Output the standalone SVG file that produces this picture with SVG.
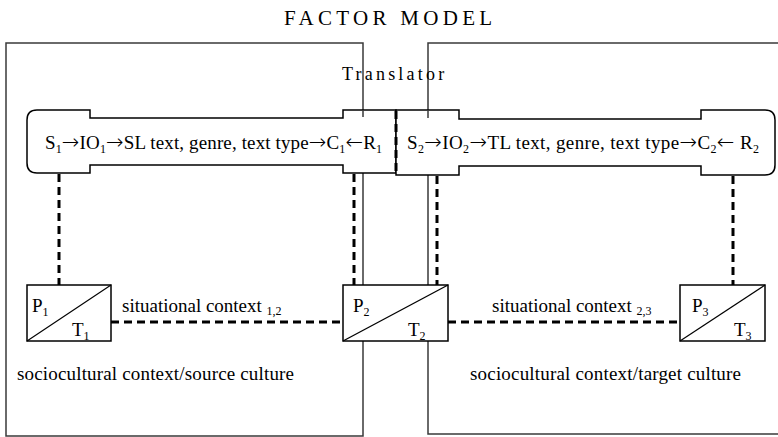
<svg xmlns="http://www.w3.org/2000/svg" width="778" height="437" viewBox="0 0 778 437">
<style>
text{font-family:"Liberation Serif","Times New Roman",serif;fill:#000}
.lbl{font-size:19px}
.sub{font-size:12px}
.ar{font-family:"DejaVu Sans",sans-serif;font-size:21px;font-weight:200}
.frame{fill:none;stroke:#3a3a3a;stroke-width:1.5}
.box{fill:#fff;stroke:#000;stroke-width:1.5}
.dash{fill:none;stroke:#000;stroke-width:3;stroke-dasharray:8 5}
.thin{fill:none;stroke:#000;stroke-width:1.2}
</style>
<rect width="778" height="437" fill="#fff"/>
<text x="284" y="25" font-size="21" letter-spacing="4.3">FACTOR MODEL</text>
<g id="source-culture">
<path class="frame" d="M6,436 V43 H363 V436 Z"/>
</g>
<g id="target-culture">
<path class="frame" d="M790,43 H428 V434 H790"/>
</g>
<text x="342" y="80" font-size="18" letter-spacing="3.2">Translator</text>
<g id="source-chain">
<path class="box" d="M37,110 H90 V118 H343 V110 H396 V173 H343 V165 H90 V173 H37 Q27,173 27,163 V120 Q27,110 37,110 Z"/>
<text class="lbl" x="45" y="149" textLength="337">S<tspan class="sub" dy="4">1</tspan><tspan class="ar" dy="-4">→</tspan>IO<tspan class="sub" dy="4">1</tspan><tspan class="ar" dy="-4">→</tspan>SL text, genre, text type<tspan class="ar">→</tspan>C<tspan class="sub" dy="4">1</tspan><tspan class="ar" dy="-4">←</tspan>R<tspan class="sub" dy="4">1</tspan></text>
</g>
<g id="target-chain">
<path class="box" d="M396,110 H459 V119 H701 V110 H765 Q775,110 775,120 V165 Q775,175 765,175 H701 V166 H459 V175 H396 Z"/>
<text class="lbl" x="407" y="149" textLength="352">S<tspan class="sub" dy="4">2</tspan><tspan class="ar" dy="-4">→</tspan>IO<tspan class="sub" dy="4">2</tspan><tspan class="ar" dy="-4">→</tspan>TL text, genre, text type<tspan class="ar">→</tspan>C<tspan class="sub" dy="4">2</tspan><tspan class="ar" dy="-4">←</tspan> R<tspan class="sub" dy="4">2</tspan></text>
</g>
<g id="frame-overlaps">
<path class="frame" d="M363,110 V117 M428,110 V118"/>
</g>
<g id="connectors">
<path class="dash" d="M396,111 V173"/>
<path class="dash" d="M59,174 V285"/>
<path class="dash" d="M354,174 V285"/>
<path class="dash" d="M437,176 V285"/>
<path class="dash" d="M733,176 V285"/>
<path class="dash" d="M111,322 H343"/>
<path class="dash" d="M448,322 H680"/>
</g>
<g id="p1-t1">
<rect class="box" x="27" y="285" width="84" height="56"/>
<path class="thin" d="M27,341 L111,285"/>
<text class="lbl" x="32" y="312">P<tspan class="sub" dy="4">1</tspan></text>
<text class="lbl" x="72" y="336">T<tspan class="sub" dy="4">1</tspan></text>
</g>
<g id="p2-t2">
<rect class="box" x="343" y="285" width="105" height="56"/>
<path class="thin" d="M343,341 L448,285"/>
<text class="lbl" x="353" y="312">P<tspan class="sub" dy="4">2</tspan></text>
<text class="lbl" x="408" y="336">T<tspan class="sub" dy="4">2</tspan></text>
</g>
<g id="p3-t3">
<rect class="box" x="680" y="285" width="85" height="56"/>
<path class="thin" d="M680,341 L765,285"/>
<text class="lbl" x="692" y="312">P<tspan class="sub" dy="4">3</tspan></text>
<text class="lbl" x="734" y="336">T<tspan class="sub" dy="4">3</tspan></text>
</g>
<text class="lbl" x="122" y="312">situational context <tspan class="sub" dy="3">1,2</tspan></text>
<text class="lbl" x="492" y="312">situational context <tspan class="sub" dy="3">2,3</tspan></text>
<text class="lbl" x="17" y="380" textLength="277">sociocultural context/source culture</text>
<text class="lbl" x="470" y="380" textLength="271">sociocultural context/target culture</text>
</svg>
